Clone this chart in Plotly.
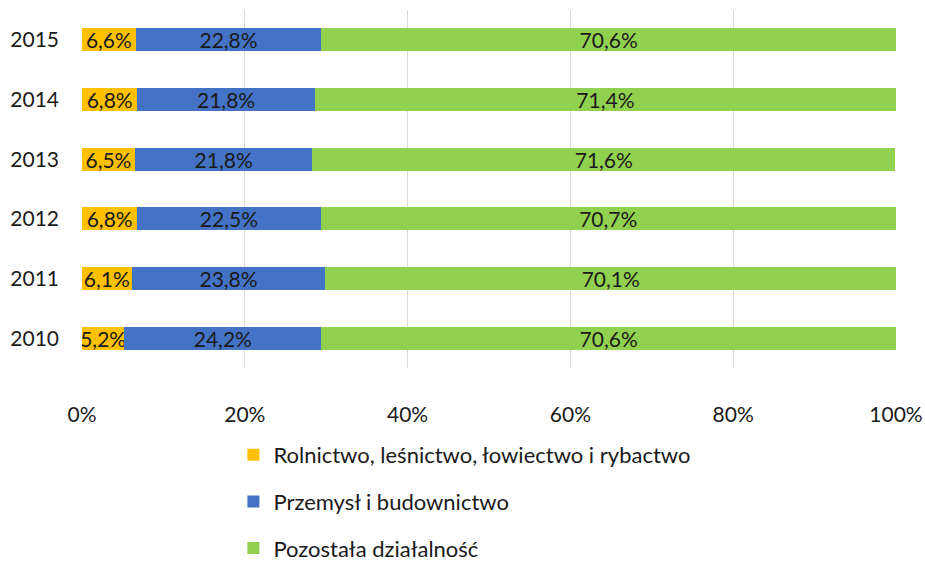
import plotly.graph_objects as go

years = ["2010", "2011", "2012", "2013", "2014", "2015"]
rolnictwo = [5.2, 6.1, 6.8, 6.5, 6.8, 6.6]
przemysl = [24.2, 23.8, 22.5, 21.8, 21.8, 22.8]
pozostala = [70.6, 70.1, 70.7, 71.6, 71.4, 70.6]

series_names = ["Rolnictwo, leśnictwo, łowiectwo i rybactwo",
                "Przemysł i budownictwo",
                "Pozostała działalność"]
colors = ["#FFC000", "#4472C4", "#92D050"]
FONT = "Lato"
TXT = "#1a1a1a"

fig = go.Figure()
for name, vals, col in zip(series_names, [rolnictwo, przemysl, pozostala], colors):
    fig.add_trace(go.Bar(
        y=years, x=vals, name=name, orientation="h",
        marker=dict(color=col, line=dict(width=0)),
        text=[f"{v:.1f}%".replace(".", ",") for v in vals],
        textposition="inside", insidetextanchor="middle",
        constraintext="none", textangle=0,
        textfont=dict(family=FONT, size=21, color=TXT),
        legendgroup=name,
    ))

fig.update_layout(
    barmode="stack",
    bargap=0.61,
    width=925, height=562,
    margin=dict(l=82, r=29, t=10, b=194),
    plot_bgcolor="white", paper_bgcolor="white",
    font=dict(family=FONT, size=21, color=TXT),
    uniformtext=dict(minsize=21, mode="show"),
    xaxis=dict(range=[0, 100], dtick=20, ticksuffix="%", showgrid=True,
               gridcolor="#D9D9D9", gridwidth=1, zeroline=False,
               tickfont=dict(family=FONT, size=21, color=TXT),
               ticklabelstandoff=32, showline=False, automargin=False),
    yaxis=dict(type="category", tickfont=dict(family=FONT, size=21, color=TXT),
               ticklabelstandoff=22, showgrid=False, showline=False,
               automargin=False),
    legend=dict(orientation="v", xref="paper", x=0.186, xanchor="left",
                yref="container", y=0.2278, yanchor="top",
                traceorder="grouped", tracegroupgap=15,
                font=dict(family=FONT, size=22, color=TXT),
                itemwidth=30),
    showlegend=True,
)

fig.write_html("out.html",
               config={"displayModeBar": False},
               post_script="document.body.style.margin='0';document.body.style.overflow='hidden';")
